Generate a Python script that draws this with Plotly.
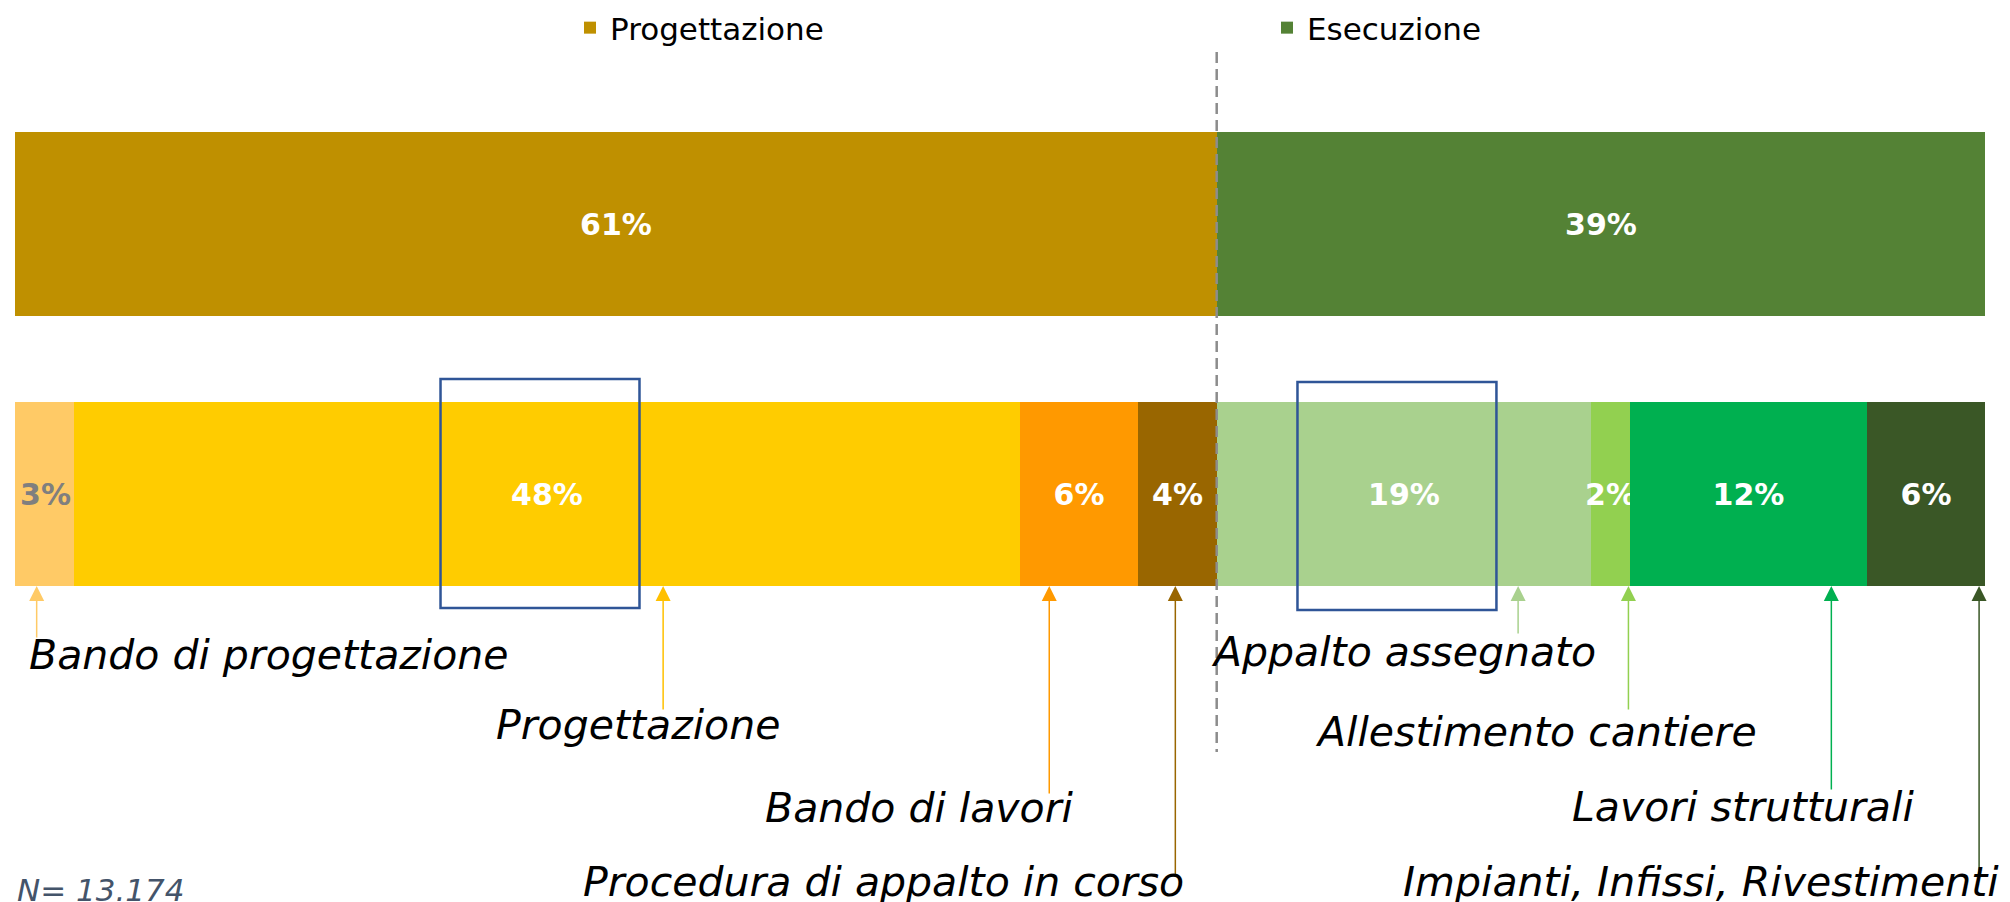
import plotly.graph_objects as go

# ---------------- data ----------------
macro_labels = ["Progettazione", "Esecuzione"]
macro_values = [61, 39]

stage_labels = [
    "Bando di progettazione",
    "Progettazione",
    "Bando di lavori",
    "Procedura di appalto in corso",
    "Appalto assegnato",
    "Allestimento cantiere",
    "Lavori strutturali",
    "Impianti, Infissi, Rivestimenti",
]
stage_values = [3, 48, 6, 4, 19, 2, 12, 6]

row_names = ["Fase", "Stato"]
sample_note = "N= 13.174"

# ---------------- styles / layout ----------------
macro_colors = ["#BF9000", "#548235"]
stage_colors = ["#FFCA66", "#FFCC00", "#FF9900", "#996600",
                "#A9D18E", "#92D050", "#00B050", "#3A5726"]
arrow_colors = ["#FFCA66", "#FFC000", "#FF9900", "#996600",
                "#A9D18E", "#92D050", "#00B050", "#3A5726"]
stage_text_colors = ["#7F7F7F"] + ["#FFFFFF"] * 7

# arrow anchor positions along the stacked bar (percent scale)
arrow_x = [1.1, 32.9, 52.5, 58.9, 76.3, 81.9, 92.2, 99.7]
arrow_len = [53, 125, 209, 292, 49, 125, 205, 290]        # px
label_x = [12.9, 31.6, 45.9, 44.1, 70.5, 77.2, 87.7, 85.6]   # percent scale
label_ypx = [655, 725, 808, 882, 652, 732, 807, 882]          # px from top

W, H = 2010, 902
ML, MR = 15, 25
BAR_W = 0.681
YRANGE = [2.511, -0.8296]

FONT = "Verdana, DejaVu Sans, sans-serif"

fig = go.Figure()

for lab, val, col in zip(macro_labels, macro_values, macro_colors):
    fig.add_trace(go.Bar(
        y=[row_names[0]], x=[val], name=lab, orientation="h",
        marker=dict(color=col, line=dict(width=0)), width=BAR_W,
        text=[f"{val}%"], textposition="inside", insidetextanchor="middle",
        textangle=0, constraintext="none",
        textfont=dict(family=FONT, size=30, color="#FFFFFF", weight="bold"),
        hoverinfo="skip", showlegend=True,
    ))

for i, (lab, val, col, tcol) in enumerate(zip(stage_labels, stage_values, stage_colors, stage_text_colors)):
    fig.add_trace(go.Bar(
        y=[row_names[1]], x=[val], name=lab, orientation="h",
        marker=dict(color=col, line=dict(width=0)), width=BAR_W,
        text=[f"{val}%"], textposition="inside",
        insidetextanchor="end" if i == 0 else "middle",
        textangle=0, constraintext="none",
        textfont=dict(family=FONT, size=30, color=tcol, weight="bold"),
        hoverinfo="skip", showlegend=False,
    ))

annotations = []
bar_bottom = 1 + BAR_W / 2
for i, lab in enumerate(stage_labels):
    annotations.append(dict(
        x=arrow_x[i], y=bar_bottom, xref="x", yref="y",
        text="", showarrow=True, ax=0, ay=arrow_len[i],
        arrowhead=2, arrowsize=2, arrowwidth=1.5, arrowcolor=arrow_colors[i],
        standoff=0,
    ))
    annotations.append(dict(
        x=label_x[i], y=1 - label_ypx[i] / H, xref="x", yref="paper",
        text=f"<i>{lab}</i>", showarrow=False,
        xanchor="center", yanchor="middle",
        font=dict(family=FONT, size=41, color="#000000"),
    ))

annotations.append(dict(
    x=0, y=1 - 890 / H, xref="paper", yref="paper",
    text=f"<i>{sample_note}</i>", showarrow=False,
    xanchor="left", yanchor="middle",
    font=dict(family=FONT, size=31, color="#44546A"),
))

shapes = [
    # divider between phases
    dict(type="line", xref="x", yref="paper",
         x0=macro_values[0], x1=macro_values[0],
         y0=1 - 52 / H, y1=1 - 752 / H,
         line=dict(color="#8C8C8C", width=2.5, dash="11px,6px"), layer="above"),
    # highlight boxes
    dict(type="rect", xref="x", yref="paper",
         x0=21.6, x1=31.7, y0=1 - 379 / H, y1=1 - 608 / H,
         line=dict(color="#2F5597", width=2.5), fillcolor="rgba(0,0,0,0)", layer="above"),
    dict(type="rect", xref="x", yref="paper",
         x0=65.1, x1=75.2, y0=1 - 382 / H, y1=1 - 610 / H,
         line=dict(color="#2F5597", width=2.5), fillcolor="rgba(0,0,0,0)", layer="above"),
]

fig.update_layout(
    width=W, height=H,
    margin=dict(l=ML, r=MR, t=0, b=0, pad=0),
    paper_bgcolor="#FFFFFF", plot_bgcolor="#FFFFFF",
    barmode="stack", bargap=0,
    font=dict(family=FONT, color="#000000"),
    xaxis=dict(range=[0, 100], visible=False, fixedrange=True),
    yaxis=dict(type="category", categoryorder="array", categoryarray=row_names,
               range=YRANGE, visible=False, fixedrange=True),
    legend=dict(orientation="h", x=(570 - ML) / (W - ML - MR), y=1 - 1 / H,
                xanchor="left", yanchor="top",
                entrywidth=652, entrywidthmode="pixels",
                font=dict(family=FONT, size=31, color="#000000"),
                bgcolor="rgba(0,0,0,0)", traceorder="normal"),
    annotations=annotations,
    shapes=shapes,
)

fig.write_html(
    "out.html",
    config={"displayModeBar": False},
    post_script="document.body.style.margin='0px';document.body.style.overflow='hidden';",
)
